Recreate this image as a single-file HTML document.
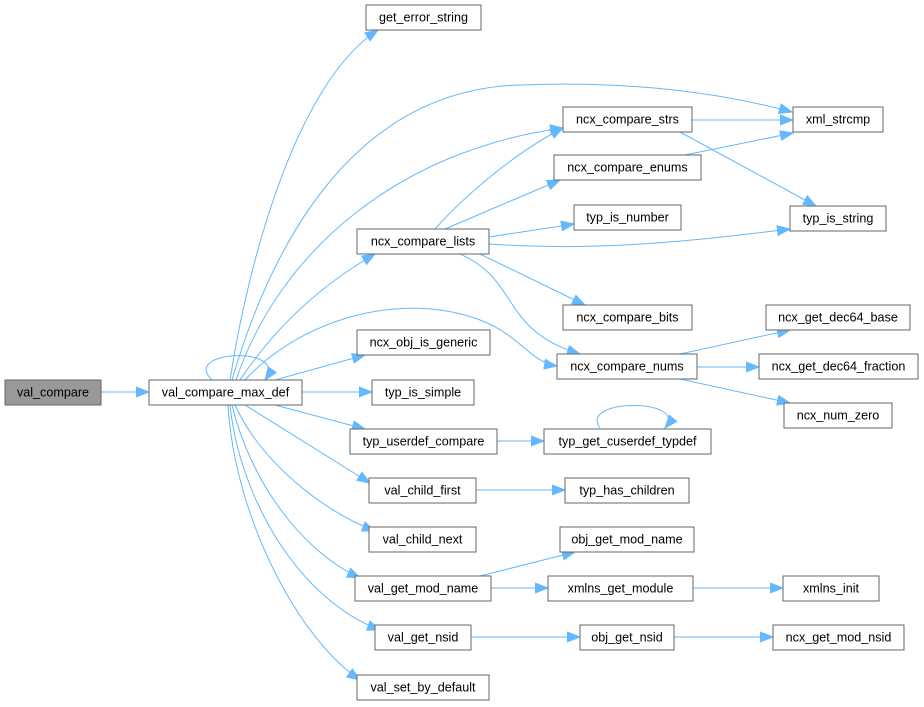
<!DOCTYPE html>
<html><head><meta charset="utf-8"><style>
html,body{margin:0;padding:0;background:#fff}
svg{display:block}
text{font-family:"Liberation Sans",Arial,sans-serif;font-size:12.6px;fill:#000}
.n{fill:#fff;stroke:#666;stroke-width:1}
.e{fill:none;stroke:#63b8ff;stroke-width:1}
</style></head><body>
<svg width="924" height="707" viewBox="0 0 924 707" xmlns="http://www.w3.org/2000/svg">
<defs><marker id="a" markerUnits="userSpaceOnUse" markerWidth="14" markerHeight="12" refX="13" refY="6" orient="auto"><path d="M0,1 L13,6 L0,11 Z" fill="#63b8ff" stroke="#63b8ff"/></marker></defs>
<g marker-end="url(#a)">
<path class="e" d="M101,392 L149,392"/>
<path class="e" d="M230,380 C250,250 300,80 378,30"/>
<path class="e" d="M232,380 C270,250 350,90 520,85 C650,80 740,98 792,112"/>
<path class="e" d="M236,380 C280,250 400,150 563,128"/>
<path class="e" d="M240,380 C280,320 330,280 375,254"/>
<path class="e" d="M245,380 C300,320 400,290 480,320 C520,335 530,362 557,366"/>
<path class="e" d="M212,380 C180,350 290,345 265,380"/>
<path class="e" d="M275,380 L365,355"/>
<path class="e" d="M302,392 L372,392"/>
<path class="e" d="M275,405 L365,429"/>
<path class="e" d="M245,405 L370,483"/>
<path class="e" d="M235,405 C260,460 320,510 375,531"/>
<path class="e" d="M232,405 C250,480 300,550 360,578"/>
<path class="e" d="M230,405 C240,500 300,600 380,630"/>
<path class="e" d="M228,405 C235,520 300,640 360,680"/>
<path class="e" d="M435,229 C470,190 520,150 563,128"/>
<path class="e" d="M445,229 L560,180"/>
<path class="e" d="M489,237 L574,224"/>
<path class="e" d="M489,244 C600,252 700,240 790,229"/>
<path class="e" d="M480,254 L585,305"/>
<path class="e" d="M460,254 C520,280 500,330 580,354"/>
<path class="e" d="M692,120 L793,120"/>
<path class="e" d="M680,132 L816,206"/>
<path class="e" d="M685,155 L793,133"/>
<path class="e" d="M680,354 L790,330"/>
<path class="e" d="M697,367 L759,367"/>
<path class="e" d="M680,379 L790,403"/>
<path class="e" d="M497,441 L544,441"/>
<path class="e" d="M600,428 C578,398 690,398 665,428"/>
<path class="e" d="M476,490 L565,490"/>
<path class="e" d="M480,576 L575,552"/>
<path class="e" d="M491,588 L548,588"/>
<path class="e" d="M693,588 L783,588"/>
<path class="e" d="M471,637 L580,637"/>
<path class="e" d="M674,637 L773,637"/>
</g>
<rect x="5" y="380" width="96" height="25" fill="#999" stroke="#666"/><text x="53" y="396.5" text-anchor="middle">val_compare</text>
<g text-anchor="middle">
<rect class="n" x="149" y="380" width="153" height="25"/><text x="225.5" y="396.5">val_compare_max_def</text>
<rect class="n" x="366" y="5" width="115" height="25"/><text x="423.5" y="21.5">get_error_string</text>
<rect class="n" x="793" y="107" width="90" height="25"/><text x="838" y="123.5">xml_strcmp</text>
<rect class="n" x="563" y="107" width="129" height="25"/><text x="627.5" y="123.5">ncx_compare_strs</text>
<rect class="n" x="554" y="155" width="147" height="25"/><text x="627.5" y="171.5">ncx_compare_enums</text>
<rect class="n" x="574" y="205" width="107" height="25"/><text x="627.5" y="221.5">typ_is_number</text>
<rect class="n" x="790" y="206" width="96" height="25"/><text x="838" y="222.5">typ_is_string</text>
<rect class="n" x="357" y="229" width="132" height="25"/><text x="423" y="245.5">ncx_compare_lists</text>
<rect class="n" x="563" y="305" width="129" height="25"/><text x="627.5" y="321.5">ncx_compare_bits</text>
<rect class="n" x="766" y="305" width="144" height="25"/><text x="838" y="321.5">ncx_get_dec64_base</text>
<rect class="n" x="357" y="330" width="133" height="25"/><text x="423.5" y="346.5">ncx_obj_is_generic</text>
<rect class="n" x="557" y="354" width="140" height="25"/><text x="627" y="370.5">ncx_compare_nums</text>
<rect class="n" x="759" y="354" width="159" height="25"/><text x="838.5" y="370.5">ncx_get_dec64_fraction</text>
<rect class="n" x="372" y="380" width="102" height="25"/><text x="423" y="396.5">typ_is_simple</text>
<rect class="n" x="784" y="403" width="108" height="25"/><text x="838" y="419.5">ncx_num_zero</text>
<rect class="n" x="350" y="429" width="147" height="25"/><text x="423.5" y="445.5">typ_userdef_compare</text>
<rect class="n" x="544" y="429" width="167" height="25"/><text x="627.5" y="445.5">typ_get_cuserdef_typdef</text>
<rect class="n" x="369" y="478" width="107" height="25"/><text x="422.5" y="494.5">val_child_first</text>
<rect class="n" x="565" y="478" width="124" height="25"/><text x="627" y="494.5">typ_has_children</text>
<rect class="n" x="369" y="527" width="107" height="25"/><text x="422.5" y="543.5">val_child_next</text>
<rect class="n" x="560" y="527" width="134" height="25"/><text x="627" y="543.5">obj_get_mod_name</text>
<rect class="n" x="355" y="576" width="136" height="25"/><text x="423" y="592.5">val_get_mod_name</text>
<rect class="n" x="548" y="576" width="145" height="25"/><text x="620.5" y="592.5">xmlns_get_module</text>
<rect class="n" x="783" y="576" width="96" height="25"/><text x="831" y="592.5">xmlns_init</text>
<rect class="n" x="375" y="625" width="96" height="25"/><text x="423" y="641.5">val_get_nsid</text>
<rect class="n" x="580" y="625" width="94" height="25"/><text x="627" y="641.5">obj_get_nsid</text>
<rect class="n" x="773" y="625" width="131" height="25"/><text x="838.5" y="641.5">ncx_get_mod_nsid</text>
<rect class="n" x="357" y="675" width="132" height="25"/><text x="423" y="691.5">val_set_by_default</text>
</g>
</svg>
</body></html>
